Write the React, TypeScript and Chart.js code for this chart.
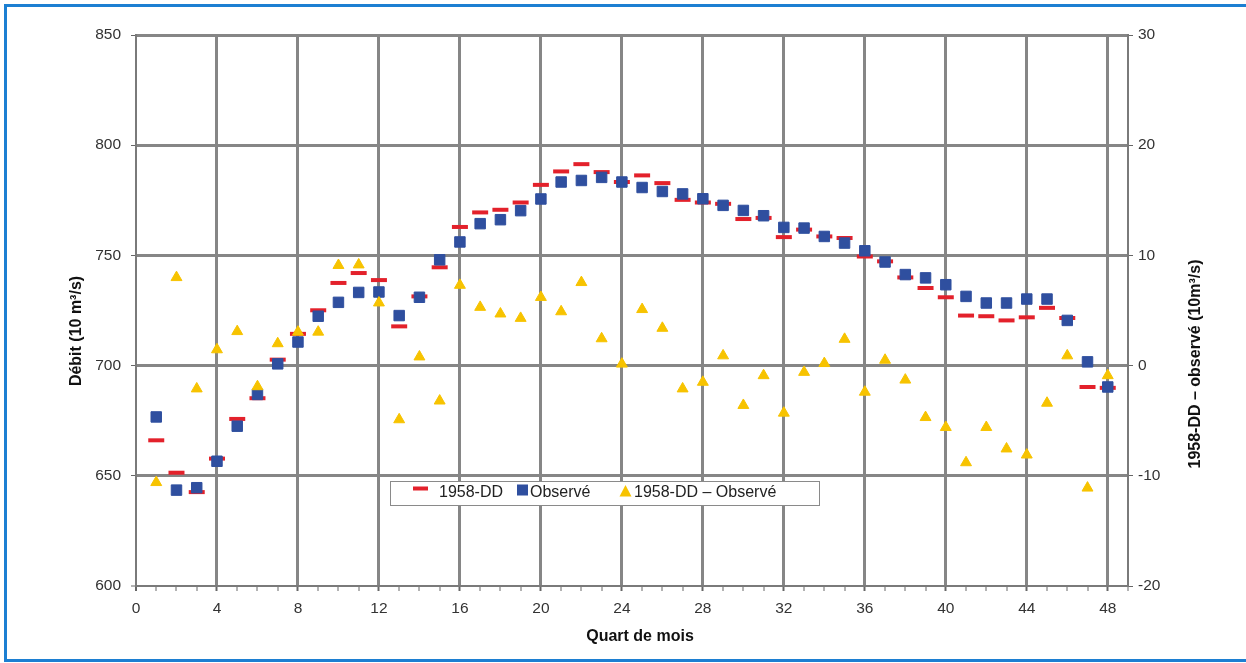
import React, { useEffect, useRef } from 'react';
import { Chart, registerables } from 'chart.js';

Chart.register(...registerables);

const quarters = [
  1, 2, 3, 4, 5, 6, 7, 8, 9, 10, 11, 12, 13, 14, 15, 16, 17, 18, 19, 20, 21, 22, 23, 24,
  25, 26, 27, 28, 29, 30, 31, 32, 33, 34, 35, 36, 37, 38, 39, 40, 41, 42, 43, 44, 45, 46, 47, 48,
];

const model1958DD = [
  666.1, 651.4, 642.6, 657.8, 675.8, 685.2, 702.7, 714.4, 725.1, 737.5, 742.0, 738.8,
  717.8, 731.4, 744.6, 762.9, 769.5, 770.7, 774.0, 782.0, 788.1, 791.4, 787.8, 783.3,
  786.3, 782.8, 775.2, 774.0, 773.4, 766.5, 767.0, 758.3, 761.7, 758.6, 757.9, 749.5,
  747.3, 740.0, 735.2, 731.0, 722.7, 722.4, 720.5, 721.9, 726.2, 721.6, 690.3, 689.9,
];

const observed = [
  676.7, 643.5, 644.6, 656.6, 672.5, 686.9, 700.8, 710.7, 722.4, 728.7, 733.2, 733.4,
  722.7, 731.0, 748.0, 756.1, 764.4, 766.2, 770.3, 775.6, 783.3, 784.0, 785.4, 783.3,
  780.8, 779.0, 777.9, 775.7, 772.7, 770.4, 768.0, 762.7, 762.4, 758.6, 755.6, 752.1,
  747.0, 741.3, 739.8, 736.7, 731.4, 728.4, 728.4, 730.2, 730.2, 720.5, 701.7, 690.3,
];

const difference = [
  -10.6, 8.0, -2.1, 1.45, 3.1, -1.9, 2.0, 3.05, 3.05, 9.1, 9.15, 5.7,
  -4.9, 0.8, -3.2, 7.3, 5.3, 4.7, 4.3, 6.2, 4.9, 7.55, 2.45, 0.15,
  5.1, 3.4, -2.1, -1.5, 0.9, -3.6, -0.9, -4.3, -0.6, 0.2, 2.4, -2.4,
  0.5, -1.3, -4.7, -5.6, -8.8, -5.6, -7.55, -8.1, -3.4, 0.9, -11.1, -0.9,
];

const seriesLabels = ['1958-DD', 'Observé', '1958-DD – Observé'];
const xTitle = 'Quart de mois';
const yTitle = 'Débit (10 m³/s)';
const y2Title = '1958-DD – observé (10m³/s)';

const RED = '#e3212b';
const BLUE = '#2f4f9f';
const YELLOW = '#f7c300';
const GRID = '#868686';
const FONT = '"Liberation Sans", Arial, sans-serif';

const framePlugin = {
  id: 'frame',
  beforeDraw(chart: any) {
    const ctx = chart.ctx;
    ctx.save();
    ctx.fillStyle = '#ffffff';
    ctx.fillRect(0, 0, chart.width, chart.height);
    ctx.restore();
  },
  afterDraw(chart: any) {
    const ctx = chart.ctx;
    ctx.save();
    // outer blue frame
    ctx.strokeStyle = '#1c7fd2';
    ctx.lineWidth = 3;
    ctx.beginPath();
    ctx.moveTo(1260, 5.5);
    ctx.lineTo(5.5, 5.5);
    ctx.lineTo(5.5, 660.5);
    ctx.lineTo(1260, 660.5);
    ctx.stroke();

    // axis titles
    ctx.fillStyle = '#111111';
    ctx.font = `bold 16px ${FONT}`;
    ctx.textAlign = 'center';
    ctx.textBaseline = 'middle';
    ctx.fillText(xTitle, 640, 637);

    ctx.save();
    ctx.translate(77, 331);
    ctx.rotate(-Math.PI / 2);
    ctx.fillText(yTitle, 0, 0);
    ctx.restore();

    ctx.save();
    ctx.translate(1196, 364);
    ctx.rotate(-Math.PI / 2);
    ctx.fillText(y2Title, 0, 0);
    ctx.restore();

    // legend
    ctx.fillStyle = '#ffffff';
    ctx.fillRect(390.5, 481.5, 429, 24);
    ctx.strokeStyle = '#8a8a8a';
    ctx.lineWidth = 1;
    ctx.strokeRect(390.5, 481.5, 429, 24);

    ctx.strokeStyle = RED;
    ctx.lineWidth = 4;
    ctx.beginPath();
    ctx.moveTo(413, 488.5);
    ctx.lineTo(428, 488.5);
    ctx.stroke();

    ctx.fillStyle = BLUE;
    ctx.fillRect(517, 484.5, 11, 11);

    ctx.fillStyle = YELLOW;
    ctx.beginPath();
    ctx.moveTo(625.5, 485);
    ctx.lineTo(631.5, 496.5);
    ctx.lineTo(619.5, 496.5);
    ctx.closePath();
    ctx.fill();

    ctx.fillStyle = '#222222';
    ctx.font = `16px ${FONT}`;
    ctx.textAlign = 'left';
    ctx.fillText(seriesLabels[0], 439, 493);
    ctx.fillText(seriesLabels[1], 530, 493);
    ctx.fillText(seriesLabels[2], 634, 493);
    ctx.restore();
  },
};

export default function App() {
  const canvasRef = useRef<HTMLCanvasElement | null>(null);

  useEffect(() => {
    const canvas = canvasRef.current;
    if (!canvas) return;
    const tickFont = { family: FONT, size: 15.5 };
    const chart = new Chart(canvas, {
      type: 'scatter',
      data: {
        datasets: [
          {
            label: seriesLabels[0],
            data: quarters.map((q, i) => ({ x: q, y: model1958DD[i] })),
            yAxisID: 'y',
            showLine: false,
            pointStyle: 'line',
            pointRadius: 8,
            pointBorderWidth: 4,
            pointBorderColor: RED,
            pointBackgroundColor: RED,
            order: 3,
          },
          {
            label: seriesLabels[1],
            data: quarters.map((q, i) => ({ x: q, y: observed[i] })),
            yAxisID: 'y',
            showLine: false,
            pointStyle: 'rect',
            pointRadius: 7.4,
            pointBorderWidth: 1,
            pointBorderColor: BLUE,
            pointBackgroundColor: BLUE,
            order: 2,
          },
          {
            label: seriesLabels[2],
            data: quarters.map((q, i) => ({ x: q, y: difference[i] })),
            yAxisID: 'y2',
            showLine: false,
            pointStyle: 'triangle',
            pointRadius: 6.3,
            pointBorderWidth: 1,
            pointBorderColor: YELLOW,
            pointBackgroundColor: YELLOW,
            order: 1,
          },
        ],
      },
      options: {
        responsive: false,
        animation: false,
        devicePixelRatio: 1,
        layout: { padding: { top: 35, left: 0, right: 0, bottom: 0 } },
        plugins: {
          legend: { display: false },
          tooltip: { enabled: false },
          title: { display: false },
        },
        scales: {
          x: {
            type: 'linear',
            position: 'bottom',
            min: 0,
            max: 49,
            ticks: {
              stepSize: 1,
              autoSkip: false,
              maxRotation: 0,
              minRotation: 0,
              includeBounds: false,
              padding: 8,
              color: '#333333',
              font: tickFont,
              callback: (v: any) => (Number(v) % 4 === 0 && Number(v) <= 48 ? String(v) : ''),
            },
            grid: {
              color: GRID,
              lineWidth: (c: any) =>
                c.tick && c.tick.value % 4 === 0 && c.tick.value !== 0 ? 3 : 0,
              drawTicks: true,
              tickLength: 5,
              tickColor: '#666666',
              tickWidth: (c: any) => (c.tick && c.tick.value % 4 === 0 ? 2 : 1),
            },
            border: { display: true, color: '#7a7a7a', width: 2 },
            afterFit: (s: any) => {
              s.height = 77;
            },
          },
          y: {
            type: 'linear',
            position: 'left',
            min: 600,
            max: 850,
            ticks: { stepSize: 50, padding: 10, color: '#333333', font: tickFont },
            grid: {
              color: GRID,
              lineWidth: (c: any) => (c.tick && c.tick.value === 600 ? 0 : 3),
              tickLength: 5,
              tickColor: '#666666',
              tickWidth: 1,
            },
            border: { display: true, color: '#7a7a7a', width: 2 },
            afterFit: (s: any) => {
              s.width = 136;
            },
          },
          y2: {
            type: 'linear',
            position: 'right',
            min: -20,
            max: 30,
            ticks: { stepSize: 10, padding: 5, color: '#333333', font: tickFont },
            grid: {
              drawOnChartArea: false,
              tickLength: 5,
              tickColor: '#666666',
              tickWidth: 1,
            },
            border: { display: true, color: '#7a7a7a', width: 2 },
            afterFit: (s: any) => {
              s.width = 118;
            },
          },
        },
      },
      plugins: [framePlugin],
    });
    return () => {
      chart.destroy();
    };
  }, []);

  return (
    <div style={{ position: 'fixed', left: 0, top: 0, width: 1246, height: 663, background: '#fff' }}>
      <canvas ref={canvasRef} width={1246} height={663} style={{ display: 'block', width: 1246, height: 663 }} />
    </div>
  );
}
